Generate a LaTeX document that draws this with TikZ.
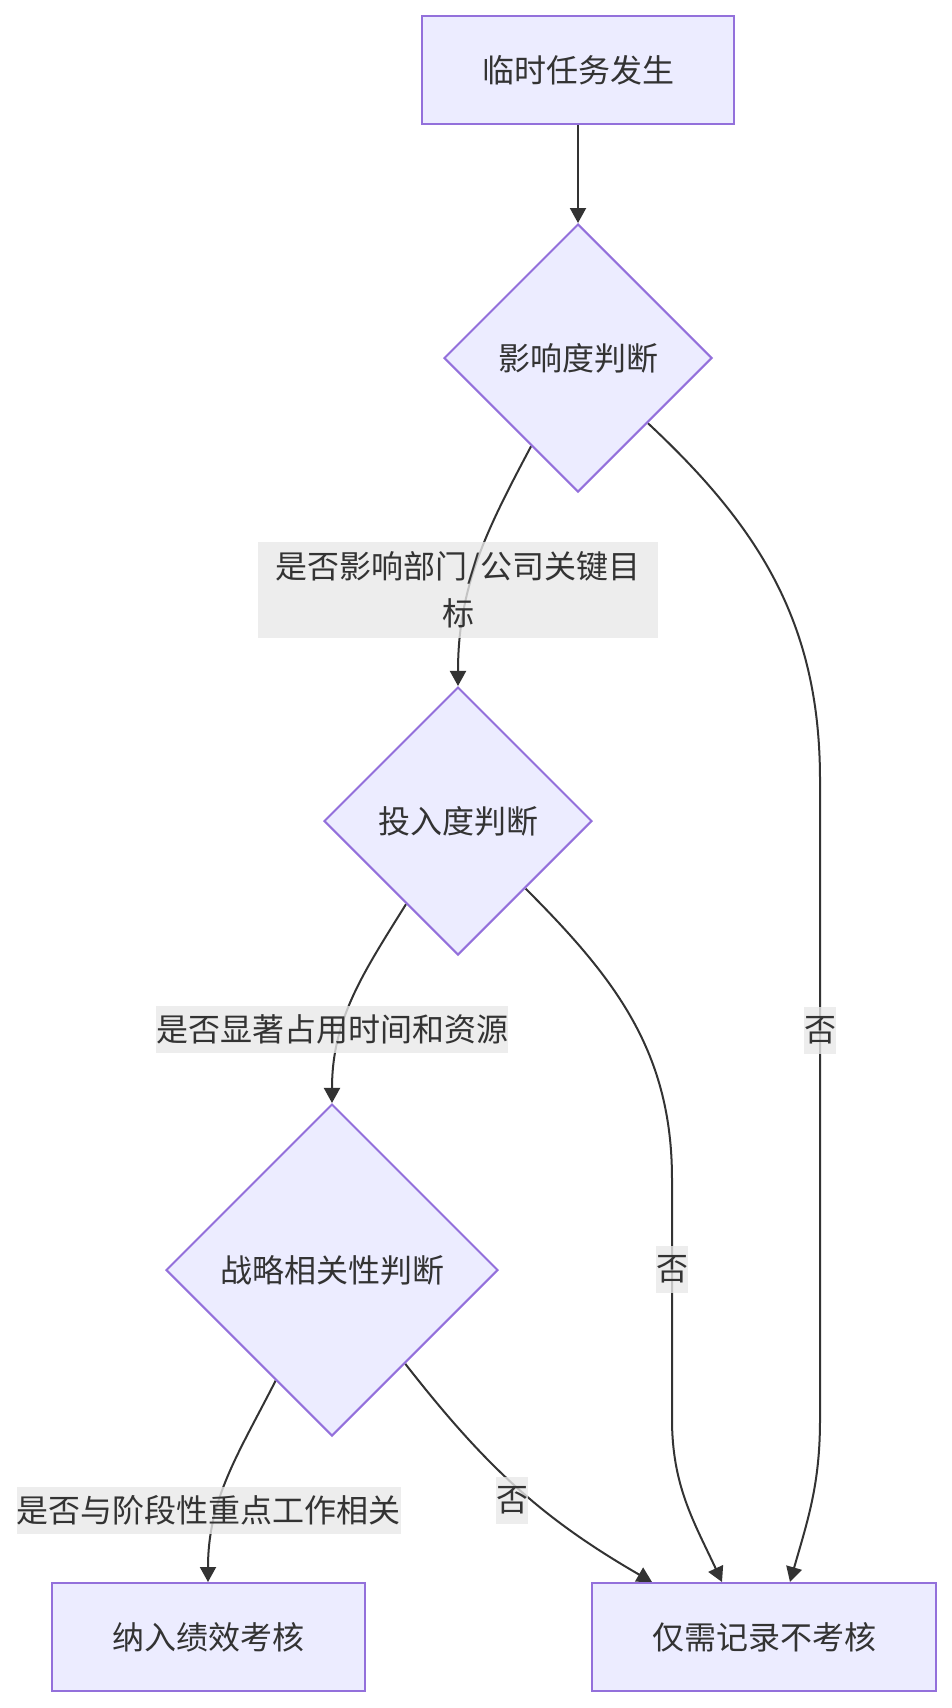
\documentclass[tikz,border=0pt]{standalone}
\usepackage{fontspec}
\newfontfamily\cjk{Noto Sans CJK SC}
\usepackage{tikz}
\usetikzlibrary{arrows.meta, shapes.geometric, backgrounds}
\definecolor{nodefill}{HTML}{ECECFF}
\definecolor{nodeline}{HTML}{9370DB}
\definecolor{lblfill}{HTML}{E8E8E8}
\definecolor{ink}{HTML}{333333}
\tikzset{
  txt/.style   = {text=ink, font=\cjk\fontsize{16pt}{23.5pt}\selectfont},
  sbox/.style  = {rectangle, draw=nodeline, fill=nodefill, line width=1pt, txt,
                  inner sep=0pt, minimum height=54pt},
  judge/.style = {diamond, aspect=1, draw=nodeline, fill=nodefill, line width=1pt,
                  txt, inner sep=0pt},
  elbl/.style  = {fill=lblfill, fill opacity=0.8, text opacity=1, txt,
                  inner sep=0pt, minimum height=23.5pt},
  arr/.style   = {-{Triangle[length=7.5pt, width=8pt]}, line width=1pt, draw=ink},
}
\begin{document}
\begin{tikzpicture}[x=0.5pt, y=-0.5pt]
  \useasboundingbox (0,0) rectangle (952,1708);
  \node[sbox, minimum width=156pt] (start) at (578,70) {临时任务发生};
  \node[judge, minimum width=134pt, minimum height=134pt] (impact) at (578,358) {影响度判断};
  \node[judge, minimum width=134pt, minimum height=134pt] (effort) at (458,821) {投入度判断};
  \node[judge, minimum width=166pt, minimum height=166pt] (strat) at (332,1270) {战略相关性判断};
  \node[sbox, minimum width=156.5pt] (assess) at (208,1637) {纳入绩效考核};
  \node[sbox, minimum width=172pt] (record) at (764,1637) {仅需记录不考核};
  % edge labels
  \node[elbl, text width=200pt, align=center, minimum height=48pt] (qkey) at (458,590)
    {是否影响部门/公司关键目\\标};
  \node[elbl] (qtime) at (332,1029) {是否显著占用时间和资源};
  \node[elbl] (qstage) at (209,1510) {是否与阶段性重点工作相关};
  \node[elbl] (no1) at (820,1030) {否};
  \node[elbl] (no2) at (672,1269) {否};
  \node[elbl] (no3) at (512,1500) {否};
  \begin{scope}[on background layer]
    \draw[arr] (start) -- (impact);
    \draw[arr] (impact) to[out=-118, in=90] (effort);
    \draw[arr] (effort) to[out=-122, in=90] (strat);
    \draw[arr] (strat) to[out=-117, in=90] (assess);
    \draw[arr] (impact) to[out=-43, in=90] ([yshift=125pt]no1.center) -- (no1.center)
      -- ++(0,390) to[out=-90, in=74] ([xshift=13pt]record.north);
    \draw[arr] (effort) to[out=-45, in=90] ([yshift=45pt]no2.center) -- (no2.center)
      -- ++(0,150) to[out=-90, in=115] ([xshift=-21pt]record.north);
    \draw[arr] (strat) to[out=-52, in=150] ([xshift=-56pt]record.north);
  \end{scope}
\end{tikzpicture}
\end{document}
